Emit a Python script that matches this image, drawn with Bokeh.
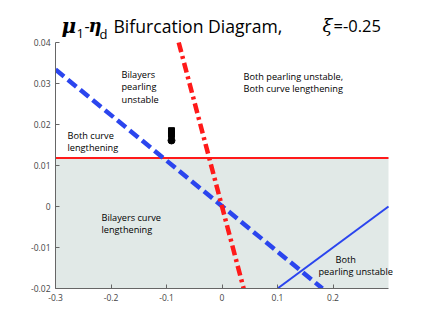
from bokeh.plotting import figure
from bokeh.models import Range1d, FixedTicker, Label
from bokeh.embed import file_html
from bokeh.resources import INLINE

# ---- data ----
x_ticks = [-0.3, -0.2, -0.1, 0.0, 0.1, 0.2]
x_tick_labels = ["-0.3", "-0.2", "-0.1", "0", "0.1", "0.2"]
y_ticks = [-0.02, -0.01, 0.0, 0.01, 0.02, 0.03, 0.04]
y_tick_labels = ["-0.02", "-0.01", "0", "0.01", "0.02", "0.03", "0.04"]

shade_x = [-0.3, 0.3]
shade_y_low = [-0.02, -0.02]
shade_y_high = [0.0118, 0.0118]

red_solid_x = [-0.3, 0.3]
red_solid_y = [0.0118, 0.0118]

red_dashdot_x = [-0.078, 0.039]
red_dashdot_y = [0.04, -0.02]

blue_dash_x = [-0.3, 0.181]
blue_dash_y = [0.0334, -0.02]

blue_solid_x = [0.1, 0.3]
blue_solid_y = [-0.02, 0.0]

sq_x = [-0.091, -0.091]
sq_y = [0.0185, 0.0175]
circ_x = [-0.091]
circ_y = [0.0161]

FONT = "Open Sans"
GREEK = "DejaVu Serif"

# pixel geometry (page coordinates)
FL, FR, FT, FB = 55, 400, 2, 288          # frame edges
PX_PER_X = 555.0                           # pixels per unit of x
PX_PER_Y = 4100.0                          # pixels per unit of y
X0_PX = FL + 0.3 * PX_PER_X                # pixel of x = 0
Y004_PX = FB - 0.06 * PX_PER_Y             # pixel of y = 0.04

W, H = 421, 315
x_end = -0.3 + (FR - FL) / PX_PER_X
y_end = 0.04 + (Y004_PX - FT) / PX_PER_Y

p = figure(width=W, height=H, output_backend="svg", toolbar_location=None,
           title=None,
           x_range=Range1d(-0.3, x_end), y_range=Range1d(-0.02, y_end),
           min_border_left=FL, min_border_right=W - FR, min_border_top=FT,
           min_border_bottom=H - FB)
p.outline_line_color = None
p.xgrid.visible = False
p.ygrid.visible = False

p.varea(x=shade_x, y1=shade_y_low, y2=shade_y_high, fill_color="#e1e9e7")
p.line(red_solid_x, red_solid_y, line_color="#ff1a1a", line_width=2)
p.line(blue_solid_x, blue_solid_y, line_color="#2b45ee", line_width=2)
p.line(blue_dash_x, blue_dash_y, line_color="#2b45ee", line_width=4.5, line_dash="11 5")
p.line(red_dashdot_x, red_dashdot_y, line_color="#ff1a1a", line_width=4.5, line_dash="10 4 3 4")
p.scatter(sq_x, sq_y, marker="square", size=6, color="black")
p.scatter(circ_x, circ_y, marker="circle", size=7, color="black")

for ax in (p.xaxis[0], p.yaxis[0]):
    ax.axis_line_color = "#666666"
    ax.major_tick_line_color = "#666666"
    ax.major_tick_in = 4
    ax.major_tick_out = 0
    ax.minor_tick_line_color = None
    ax.major_label_text_font = FONT
    ax.major_label_text_font_size = "8.5px"
    ax.major_label_text_color = "#444444"
p.xaxis.ticker = FixedTicker(ticks=x_ticks)
p.xaxis.major_label_overrides = {t: l for t, l in zip(x_ticks, x_tick_labels)}
p.xaxis.bounds = (-0.3, 0.3)
p.yaxis.ticker = FixedTicker(ticks=y_ticks)
p.yaxis.major_label_overrides = {t: l for t, l in zip(y_ticks, y_tick_labels)}
p.yaxis.bounds = (-0.02, 0.04)
p.xaxis.major_label_standoff = 5
p.yaxis.major_label_standoff = 5


def px2x(px):
    return (px - X0_PX) / PX_PER_X


def py2y(py):
    return 0.04 - (py - Y004_PX) / PX_PER_Y


def lab(text, px, py, size="10px", style="normal", align="left", font=FONT):
    p.add_layout(Label(x=px2x(px), y=py2y(py), text=text, text_font=font,
                       text_font_size=size, text_font_style=style,
                       text_align=align, text_baseline="alphabetic",
                       text_color="black"))


# title pieces
lab("\u03bc", 61, 25, "20px", "bold italic", font=GREEK)
lab("1", 76, 33, "13px")
lab("-", 84, 25, "16px")
lab("\u03b7", 88, 25, "18px", "bold italic", font=GREEK)
lab("d", 99, 33, "13px")
lab("Bifurcation Diagram,", 113, 25, "17.6px")
lab("\u03be", 322, 25, "18px", "italic", font=GREEK)
lab("=-0.25", 333, 25, "16.5px")

# annotations
ts = "9.2px"
lab("Bilayers", 121, 74, ts)
lab("pearling", 121, 86, ts)
lab("unstable", 121, 99, ts)
lab("Both pearling unstable,", 243, 76, ts)
lab("Both curve lengthening", 243, 88, ts)
lab("Both curve", 67, 135, ts)
lab("lengthening", 67, 147, ts)
lab("Bilayers curve", 101, 217, ts)
lab("lengthening", 101, 229, ts)
lab("Both", 335, 259, ts)
lab("pearling unstable", 318, 271, ts)

open("out.html", "w").write(file_html(p, INLINE))
